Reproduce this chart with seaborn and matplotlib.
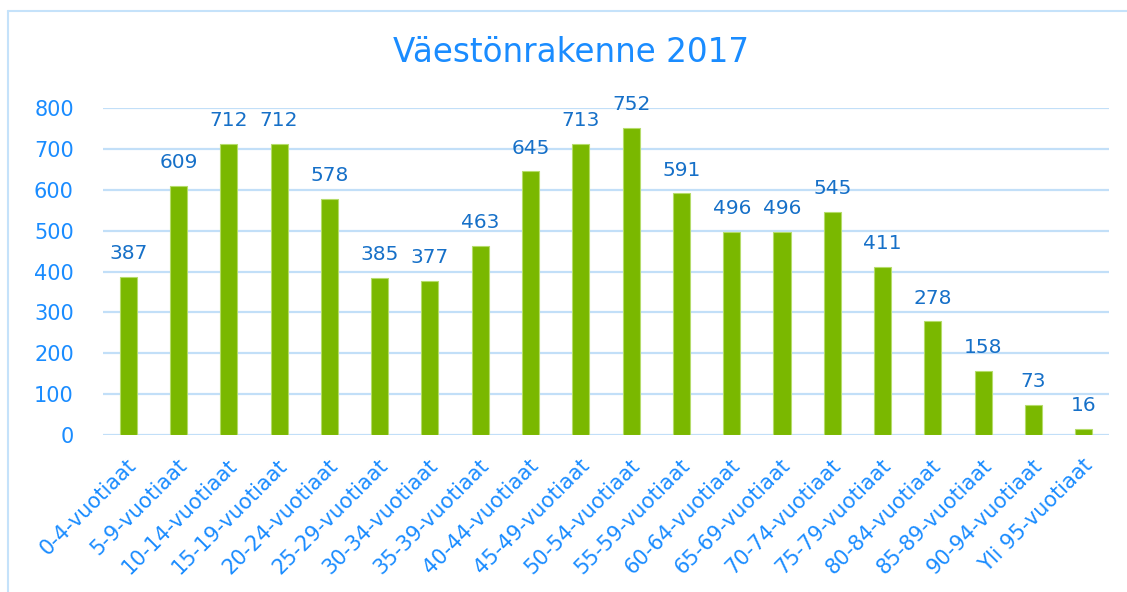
import matplotlib
matplotlib.use("Agg")
import matplotlib.pyplot as plt
import seaborn as sns
import pandas as pd
from matplotlib.transforms import ScaledTranslation
from matplotlib.lines import Line2D

categories = ["0-4-vuotiaat", "5-9-vuotiaat", "10-14-vuotiaat", "15-19-vuotiaat",
              "20-24-vuotiaat", "25-29-vuotiaat", "30-34-vuotiaat", "35-39-vuotiaat",
              "40-44-vuotiaat", "45-49-vuotiaat", "50-54-vuotiaat", "55-59-vuotiaat",
              "60-64-vuotiaat", "65-69-vuotiaat", "70-74-vuotiaat", "75-79-vuotiaat",
              "80-84-vuotiaat", "85-89-vuotiaat", "90-94-vuotiaat", "Yli 95-vuotiaat"]
values = [387, 609, 712, 712, 578, 385, 377, 463, 645, 713, 752, 591,
          496, 496, 545, 411, 278, 158, 73, 16]
yticks = [0, 100, 200, 300, 400, 500, 600, 700, 800]
title = "Väestönrakenne 2017"

sns.set_theme(style="white")
plt.rcParams['font.family'] = ['DejaVu Sans']

df = pd.DataFrame({"cat": categories, "val": values})

fig = plt.figure(figsize=(11.27, 5.92), dpi=100)
ax = fig.add_axes([0.0914, 0.265, 0.8926, 0.5525])

sns.barplot(data=df, x="cat", y="val", color="#7AB800", width=0.34,
            edgecolor="#B5DC6A", linewidth=0.8, saturation=1, ax=ax, zorder=3)

ax.set_ylim(0, 800)
ax.set_xlim(-0.5, len(categories) - 0.5)
ax.set_yticks(yticks)
ax.yaxis.grid(True, color="#C2DFF8", linewidth=1.6, zorder=0)
ax.set_axisbelow(True)
for s in ax.spines.values():
    s.set_visible(False)
ax.set_xlabel("")
ax.set_ylabel("")
ax.tick_params(axis="both", length=0, colors="#1A8CFF")
ax.tick_params(axis="y", pad=21, labelsize=15)
ax.tick_params(axis="x", labelsize=15)

ax.set_xticks(range(len(categories)))
ax.set_xticklabels(categories, rotation=45, ha="right", rotation_mode="anchor")
offset = ScaledTranslation(-2 / 100, -15 / 100, fig.dpi_scale_trans)
for lbl in ax.get_xticklabels():
    lbl.set_transform(lbl.get_transform() + offset)

for i, v in enumerate(values):
    ax.annotate(str(v), (i, v), xytext=(0, 10), textcoords="offset points",
                ha="center", va="bottom", fontsize=14.5, color="#1670C8",
                annotation_clip=False)

fig.text(0.507, 0.912, title, ha="center", va="center", fontsize=23.5, color="#1A8CFF")

# chart frame (top and left borders)
fig.add_artist(Line2D([8 / 1127, 1], [1 - 11 / 592, 1 - 11 / 592],
                      transform=fig.transFigure, color="#C5E2FA", linewidth=1.5))
fig.add_artist(Line2D([8 / 1127, 8 / 1127], [0, 1 - 11 / 592],
                      transform=fig.transFigure, color="#C5E2FA", linewidth=1.5))

fig.savefig("out.png", dpi=100)
